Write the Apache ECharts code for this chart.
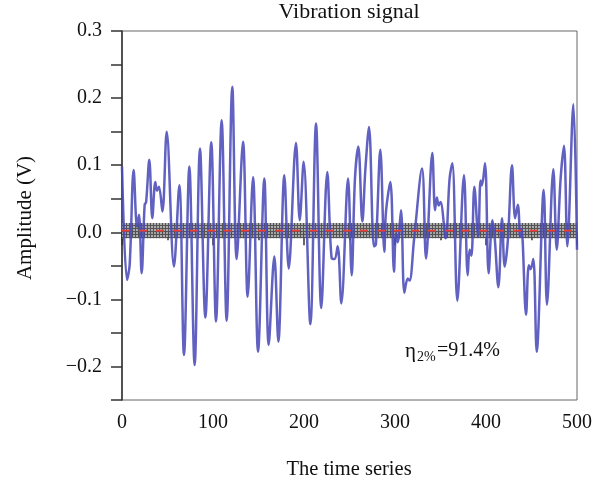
<!DOCTYPE html>
<html>
<head>
<meta charset="utf-8">
<script src="https://cdn.jsdelivr.net/npm/echarts@6/dist/echarts.min.js"></script>
<style>html,body{margin:0;padding:0;background:#fff}#c{width:611px;height:488px}</style>
</head>
<body>
<div id="c"></div>
<script>
// Sample index (time series) and amplitude (V)
const timeX = [0,5.5,8.4,12.8,16.5,18.7,21.6,24.9,26.5,30,33.3,36.6,38.5,40.6,44.4,49.1,57.1,63,68.1,74,79.8,85.7,91.6,98.1,103.3,109.5,115,121.2,126,133,138.1,144,149.5,156.4,161.2,167.4,171.8,178.4,183.2,191.2,195.3,199.6,207,213.2,219,225.6,230.4,233.5,237,241,248.4,252.4,256,259.7,264.1,267.5,271.4,276.9,279,283.9,288.3,290.1,294.9,298.9,301,303,306.6,310.3,314,316,321,329.7,334.1,341,344,346,348,350,355.7,360,363,368.5,375.8,379.9,382,384,387.2,391.5,394,395.5,398.9,402.9,407,409.5,413.6,417.6,420.5,424,428.6,432,435,437.7,439,444,447,449,452,455.7,463.4,467,474,477.7,482,485.7,489.4,496,500];
const amplitude = [0.098,-0.071,-0.049,0.093,0.008,0.026,-0.061,0.041,0.045,0.108,0.021,0.075,0.062,0.068,0.031,0.150,-0.051,0.070,-0.183,0.098,-0.198,0.125,-0.127,0.134,-0.133,0.167,-0.132,0.217,-0.040,0.135,-0.096,0.082,-0.178,0.080,-0.168,-0.036,-0.163,0.085,-0.054,0.133,0.018,0.105,-0.137,0.162,-0.113,0.090,-0.039,-0.040,-0.021,-0.106,0.080,-0.064,0.080,0.128,0.016,0.095,0.157,-0.021,-0.018,0.123,-0.029,0.031,0.075,-0.059,-0.002,-0.015,0.033,-0.090,-0.069,-0.072,-0.010,0.095,-0.039,0.118,0.033,0.052,0.040,0.045,-0.009,0.080,0.103,-0.102,0.085,-0.064,-0.026,-0.035,0.068,-0.007,0.077,0.070,0.103,-0.061,0.018,-0.007,-0.082,0.021,-0.051,-0.012,0.100,0.021,0.041,-0.007,0.005,-0.123,-0.049,-0.055,-0.040,-0.178,0.063,-0.108,0.094,-0.026,0.080,0.129,-0.021,0.191,-0.026];
// Threshold band and its centre line
const bandLow = -0.009, bandHigh = 0.014, bandCenter = 0.0025;
const bandX = [0, 500];
const xTicks = [0,100,200,300,400,500];
const yTickLabels = [-0.2,-0.1,0.0,0.1,0.2,0.3];

const pc = document.createElement('canvas');
pc.width = 3; pc.height = 3;
const g = pc.getContext('2d');
g.fillStyle = '#a8a8a8'; g.fillRect(0,0,3,3);
g.fillStyle = '#4c4c4c'; g.fillRect(0,0,3,1); g.fillRect(0,0,1,3);

const serif = '"Liberation Serif", "DejaVu Serif", serif';
const chart = echarts.init(document.getElementById('c'), null, {renderer:'canvas'});
const fmtY = v => {
  const r = Math.round(v*100);
  if (r % 10 !== 0) return '';
  const s = (Math.abs(r)/100).toFixed(1);
  return r < 0 ? '\u2212' + s : s;
};
chart.setOption({
  animation: false,
  grid: {left:122, right:34, top:31, bottom:88, show:true, borderColor:'#666', borderWidth:1},
  xAxis: {
    type:'value', min:0, max:500, interval:100,
    axisLine:{show:true, lineStyle:{color:'#333', width:1.5}},
    axisTick:{show:true, length:13, lineStyle:{color:'#333', width:1.5}},
    minorTick:{show:true, splitNumber:2, length:8, lineStyle:{color:'#333', width:1.5}},
    axisLabel:{color:'#111', fontFamily:serif, fontSize:20, margin:13, formatter: v => xTicks.includes(v) ? String(v) : ''},
    splitLine:{show:false}
  },
  yAxis: {
    type:'value', min:-0.25, max:0.3, interval:0.05,
    axisLine:{show:true, lineStyle:{color:'#333', width:1.5}},
    axisTick:{show:true, length:11, lineStyle:{color:'#333', width:1.5}},
    axisLabel:{color:'#111', fontFamily:serif, fontSize:20, margin:20, formatter: fmtY},
    splitLine:{show:false}
  },
  graphic: [
    {type:'text', x:349, y:12, style:{text:'Vibration signal', font:'22px '+serif, fill:'#111', align:'center', verticalAlign:'middle'}},
    {type:'text', x:349, y:470, style:{text:'The time series', font:'20.5px '+serif, fill:'#111', align:'center', verticalAlign:'middle'}},
    {type:'text', x:25, y:218, rotation:Math.PI/2, style:{text:'Amplitude (V)', font:'21px '+serif, fill:'#111', align:'center', verticalAlign:'middle'}},
    {type:'text', x:405, y:362, style:{text:'η', font:'21px '+serif, fill:'#111', align:'left', verticalAlign:'bottom'}},
    {type:'text', x:417, y:364, style:{text:'2%', font:'14px '+serif, fill:'#111', align:'left', verticalAlign:'bottom'}},
    {type:'text', x:437, y:361, style:{text:'=91.4%', font:'20px '+serif, fill:'#111', align:'left', verticalAlign:'bottom'}}
  ],
  series: [
    {
      type:'line', data:[], z:1, silent:true,
      markArea:{silent:true, z:1, itemStyle:{color:{image:pc, repeat:'repeat'}, opacity:0.95},
        data:[[{xAxis:bandX[0], yAxis:bandLow},{xAxis:bandX[1], yAxis:bandHigh}]]}
    },
    {
      type:'line', z:4, silent:true, symbol:'none',
      lineStyle:{color:'#f03c34', width:1.8, type:[8,9]},
      data: bandX.map(x => [x, bandCenter])
    },
    {
      type:'line', z:3, symbol:'none', smooth:0.35,
      lineStyle:{color:'#4b4bb8', width:2.5, opacity:0.88},
      data: timeX.map((x,i)=>[x, amplitude[i]])
    }
  ]
});
</script>
</body>
</html>
